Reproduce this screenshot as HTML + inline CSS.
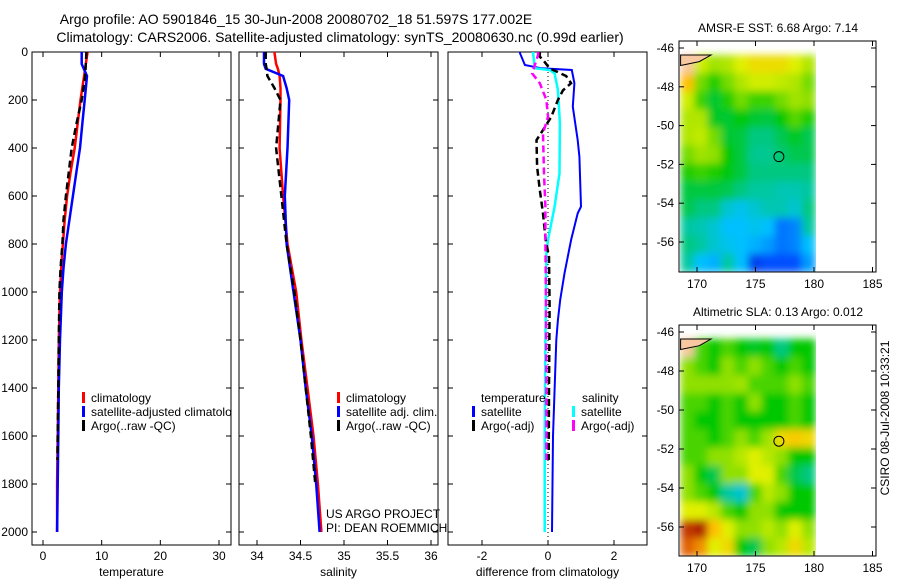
<!DOCTYPE html>
<html><head><meta charset="utf-8">
<style>
html,body{margin:0;padding:0;background:#fff;}
svg{display:block;font-family:"Liberation Sans",sans-serif;}
text{font-size:12px;fill:#000;}
</style></head>
<body>
<svg id="fig" width="900" height="580" viewBox="0 0 900 580" xmlns="http://www.w3.org/2000/svg">
<defs>
<filter id="blurSST" filterUnits="userSpaceOnUse" x="680" y="41" width="136" height="231"><feGaussianBlur stdDeviation="4" edgeMode="duplicate"/></filter>
<filter id="blurSLA" filterUnits="userSpaceOnUse" x="680" y="325" width="136" height="231"><feGaussianBlur stdDeviation="4" edgeMode="duplicate"/></filter>
</defs>
<text x="296" y="24" text-anchor="middle" style="font-size:14px">Argo profile: AO 5901846_15 30-Jun-2008 20080702_18 51.597S 177.002E</text>
<text x="340" y="42" text-anchor="middle" style="font-size:14px">Climatology: CARS2006. Satellite-adjusted climatology: synTS_20080630.nc (0.99d earlier)</text>
<g id="plots"></g>
<text transform="translate(889,418) rotate(-90)" text-anchor="middle">CSIRO 08-Jul-2008 10:33:21</text>
</svg>
<script>
// ---------- data ----------
const depthT = [0,50,100,200,300,400,500,600,700,800,900,1000,1200,1400,1600,1800,2000];
const climT  = [7.6,7.3,7.0,6.4,5.9,5.4,4.7,4.1,3.7,3.4,3.1,2.9,2.7,2.6,2.5,2.4,2.4];
const satT   = [6.6,6.6,7.5,7.1,6.7,6.3,5.7,5.1,4.5,3.9,3.5,3.2,2.9,2.7,2.6,2.5,2.4];
const depthArgo = [0,50,100,200,300,400,500,600,700,800,900,1000,1200,1400,1600,1700];
const argoT  = [7.4,7.3,7.2,6.6,5.7,4.9,4.4,3.9,3.5,3.3,3.0,2.8,2.7,2.6,2.5,2.45];
const depthS = [0,50,70,100,150,200,400,600,800,1000,1200,1400,1600,1800,2000];
const climS  = [34.2,34.22,34.24,34.26,34.27,34.27,34.26,34.3,34.35,34.45,34.51,34.58,34.65,34.7,34.74];
const satS   = [34.08,34.08,34.1,34.3,34.34,34.37,34.35,34.32,34.34,34.42,34.5,34.56,34.63,34.68,34.72];
const depthArgoS = [0,50,70,100,150,200,400,600,800,1000,1200,1400,1600,1800];
const argoS  = [34.1,34.1,34.11,34.12,34.2,34.27,34.22,34.28,34.34,34.43,34.5,34.56,34.62,34.67];
const depthDT = [0,5,54,68,75,130,228,367,436,644,672,783,922,1033,1117,1200,1600,2000];
const satDT   = [-0.85,-0.85,-0.7,-0.2,0.72,0.8,0.75,0.9,0.95,1.0,0.9,0.7,0.5,0.37,0.3,0.25,0.15,0.12];
const depthDS = [0,5,68,75,89,158,297,506,644,783,839,1200,1600,2000];
const satDS   = [-0.45,-0.45,-0.4,0.05,0.2,0.3,0.36,0.35,0.2,0.0,-0.05,-0.08,-0.1,-0.1];
const depthAT = [0,19,33,68,100,130,160,200,270,325,367,478,575,672,783,853,1061,1400,1700];
const argoDT  = [-0.25,-0.25,-0.15,0.05,0.55,0.7,0.45,0.3,0.1,-0.15,-0.35,-0.33,-0.25,-0.15,-0.07,0.03,0.05,0.03,0.02];
const depthAS = [0,12,33,89,130,200,270,339,506,644,783,1061,1400,1700];
const argoDS  = [-0.3,-0.3,-0.35,-0.48,-0.25,-0.05,0.0,-0.15,-0.12,-0.08,-0.08,-0.06,-0.05,-0.05];
const depthTicks = [0,200,400,600,800,1000,1200,1400,1600,1800,2000];
const tempTicks = [0,10,20,30];
const salTicks = [34,34.5,35,35.5,36];
const salTickLabels = ["34","34.5","35","35.5","36"];
const diffTicks = [-2,0,2];
const lonTicks = [170,175,180,185];
const latTicks = [-46,-48,-50,-52,-54,-56];
// map grids (colormap fraction 0..1, -1 = land), 10 lon cols x 12 lat rows
const sstGrid = [
[-1,0.68,0.62,0.64,0.7,0.74,0.74,0.74,0.7,0.64],
[0.8,0.58,0.52,0.58,0.64,0.68,0.68,0.66,0.64,0.58],
[0.68,0.54,0.47,0.52,0.58,0.54,0.54,0.58,0.62,0.6],
[0.64,0.64,0.48,0.47,0.5,0.47,0.46,0.5,0.56,0.52],
[0.64,0.66,0.58,0.47,0.46,0.42,0.42,0.45,0.48,0.45],
[0.58,0.62,0.6,0.5,0.46,0.41,0.41,0.43,0.45,0.45],
[0.52,0.54,0.52,0.49,0.46,0.42,0.42,0.42,0.42,0.42],
[0.46,0.46,0.46,0.45,0.42,0.4,0.4,0.38,0.38,0.4],
[0.45,0.42,0.42,0.35,0.32,0.35,0.38,0.38,0.35,0.42],
[0.4,0.38,0.35,0.3,0.3,0.32,0.3,0.2,0.22,0.4],
[0.42,0.4,0.35,0.32,0.3,0.28,0.25,0.2,0.22,0.3],
[0.4,0.3,0.28,0.4,0.3,0.12,0.15,0.15,0.15,0.25]];
const slaGrid = [
[-1,0.55,0.5,0.55,0.5,0.48,0.5,0.42,0.5,0.5],
[0.6,0.55,0.5,0.6,0.55,0.6,0.55,0.5,0.55,0.5],
[0.6,0.6,0.6,0.6,0.62,0.55,0.55,0.55,0.6,0.55],
[0.55,0.55,0.5,0.55,0.5,0.6,0.5,0.5,0.55,0.5],
[0.55,0.5,0.5,0.55,0.5,0.5,0.5,0.5,0.55,0.5],
[0.55,0.55,0.5,0.55,0.6,0.55,0.62,0.75,0.78,0.75],
[0.55,0.55,0.6,0.6,0.65,0.7,0.65,0.6,0.5,0.5],
[0.6,0.5,0.45,0.6,0.6,0.7,0.7,0.55,0.45,0.42],
[0.6,0.55,0.5,0.4,0.35,0.55,0.65,0.6,0.5,0.5],
[0.7,0.7,0.65,0.55,0.5,0.6,0.6,0.5,0.5,0.5],
[0.95,0.98,0.8,0.7,0.6,0.6,0.65,0.6,0.7,0.6],
[0.9,0.85,0.7,0.75,0.5,0.45,0.6,0.65,0.75,0.65]];
const argoLon = 177.0, argoLat = -51.6;

// ---------- helpers ----------
const NS="http://www.w3.org/2000/svg";
const root=document.getElementById('plots');
function mk(tag,attrs,parent){const e=document.createElementNS(NS,tag);for(const k in attrs)e.setAttribute(k,attrs[k]);(parent||root).appendChild(e);return e;}
const TOP=52,BOT=545;
const yD=d=>TOP+d*0.24;
function lin(d0,p0,d1,p1){return v=>p0+(v-d0)*(p1-p0)/(d1-d0);}

function panel(name,x0,x1,xs,ticks,labels,xlabel,showY){
  const g=mk('g',{});
  
  
  const r=mk('rect',{x:x0,y:TOP,width:x1-x0,height:BOT-TOP,fill:'none',stroke:'#000','stroke-width':1},g);
  
  
  ticks.forEach((t,i)=>{const x=xs(t);
    mk('line',{x1:x,x2:x,y1:BOT,y2:BOT-5,stroke:'#000'},g);
    mk('line',{x1:x,x2:x,y1:TOP,y2:TOP+5,stroke:'#000'},g);
    const tx=mk('text',{x:x,y:BOT+15,'text-anchor':'middle'},g);tx.textContent=labels[i];
    
    
  });
  depthTicks.forEach(d=>{const y=yD(d);
    mk('line',{x1:x0,x2:x0+5,y1:y,y2:y,stroke:'#000'},g);
    mk('line',{x1:x1,x2:x1-5,y1:y,y2:y,stroke:'#000'},g);
    if(showY){const tx=mk('text',{x:x0-4,y:y+4,'text-anchor':'end'},g);tx.textContent=d;
      
      }
  });
  const xl=mk('text',{x:(x0+x1)/2,y:576,'text-anchor':'middle'},g);xl.textContent=xlabel;
  
  
  return g;
}
function series(g,name,xs,vals,depths,color,dash,w){
  const pts=vals.map((v,i)=>xs(v).toFixed(1)+','+yD(depths[i]).toFixed(1)).join(' ');
  const p=mk('polyline',{points:pts,fill:'none',stroke:color,'stroke-width':w||2.5,'stroke-dasharray':dash||'none'},g);
  
  
}
function legendEntry(g,x,y,color,label,name){
  mk('rect',{x:x,y:y-10,width:3,height:11,fill:color},g);
  const t=mk('text',{x:x+9,y:y},g);t.textContent=label;
  
  
}
function txt(g,x,y,s,name){const t=mk('text',{x:x,y:y},g);t.textContent=s;
  
  return t;}

// ---------- temperature panel ----------
const xT=lin(0,43,30,219);
const g1=panel('temperature-panel',32,231,xT,tempTicks,tempTicks.map(String),'temperature',true);
series(g1,'climatology-temperature-line',xT,climT,depthT,'#f00');
series(g1,'satellite-temperature-line',xT,satT,depthT,'#00f');
series(g1,'argo-temperature-line',xT,argoT,depthArgo,'#000','7,4');
const cp1=mk('clipPath',{id:'c1'});mk('rect',{x:32,y:TOP,width:199,height:BOT-TOP},cp1);
const lg1=mk('g',{'clip-path':'url(#c1)'},g1);


legendEntry(lg1,82,402,'#f00','climatology','legend-entry-climatology');
legendEntry(lg1,82,416,'#00f','satellite-adjusted climatology','legend-entry-satellite');
legendEntry(lg1,82,430,'#000','Argo(..raw -QC)','legend-entry-argo');

// ---------- salinity panel ----------
const xS=lin(34,257,35,344);
const g2=panel('salinity-panel',239,438,xS,salTicks,salTickLabels,'salinity',false);
series(g2,'climatology-salinity-line',xS,climS,depthS,'#f00');
series(g2,'satellite-salinity-line',xS,satS,depthS,'#00f');
series(g2,'argo-salinity-line',xS,argoS,depthArgoS,'#000','7,4');
legendEntry(g2,337,402,'#f00','climatology','legend-entry-climatology');
legendEntry(g2,337,416,'#00f','satellite adj. clim.','legend-entry-satellite');
legendEntry(g2,337,430,'#000','Argo(..raw -QC)','legend-entry-argo');
txt(g2,326,518,'US ARGO PROJECT','project-label');
txt(g2,326,532,'PI: DEAN ROEMMICH','pi-label');

// ---------- difference panel ----------
const xD=lin(0,548,2,614);
const g3=panel('difference-panel',448,647,xD,diffTicks,diffTicks.map(String),'difference from climatology',false);
mk('line',{x1:xD(0),x2:xD(0),y1:TOP,y2:BOT,stroke:'#000','stroke-dasharray':'1,3'},g3);
series(g3,'satellite-temp-diff-line',xD,satDT,depthDT,'#00f',null,2);
series(g3,'satellite-sal-diff-line',xD,satDS,depthDS,'#0ff',null,2.5);
series(g3,'argo-temp-diff-line',xD,argoDT,depthAT,'#000','7,4');
series(g3,'argo-sal-diff-line',xD,argoDS,depthAS,'#f0f','7,4');
txt(g3,481,402,'temperature','legend-header-temperature');
txt(g3,582,402,'salinity','legend-header-salinity');
legendEntry(g3,472,416,'#00f','satellite','legend-entry-temp-satellite');
legendEntry(g3,472,430,'#000','Argo(-adj)','legend-entry-temp-argo');
legendEntry(g3,572,416,'#0ff','satellite','legend-entry-sal-satellite');
legendEntry(g3,572,430,'#f0f','Argo(-adj)','legend-entry-sal-argo');

// ---------- maps ----------
const cmapStops=[[0,[0,16,160]],[0.15,[0,80,255]],[0.3,[0,192,255]],[0.4,[0,200,160]],[0.5,[0,200,0]],[0.6,[144,224,0]],[0.7,[224,240,0]],[0.8,[255,192,0]],[0.9,[224,96,0]],[1,[160,16,0]]];
function cmap(v){if(v<0)return '#f8c8a0';
  for(let i=1;i<cmapStops.length;i++){if(v<=cmapStops[i][0]){const [a,ca]=cmapStops[i-1],[b,cb]=cmapStops[i];const t=(v-a)/(b-a);
    return 'rgb('+ca.map((c,k)=>Math.round(c+(cb[k]-c)*t)).join(',')+')';}}
  return 'rgb(160,16,0)';}
function mapPanel(name,title,grid,top,bot,lat46,lat56,filt){
  const g=mk('g',{});
  
  
  const xL=lin(170,697,180,814), yL=lin(-46,lat46,-56,lat56);
  const lon0=168.6,lon1=180.1;
  const latTop=-46-(lat46-top)/((lat56-lat46)/10), latBot=-46-(bot-lat46)/((lat56-lat46)/10);
  const nr=grid.length,nc=grid[0].length;
  const dLon=(lon1-lon0)/nc,dLat=(latTop-latBot)/nr;
  const cg=mk('g',{filter:'url(#'+filt+')'},g);
  
  
  grid.forEach((row,r)=>row.forEach((v,c)=>{
    const xa=xL(lon0+c*dLon),xb=xL(lon0+(c+1)*dLon),ya=yL(latTop-r*dLat),yb=yL(latTop-(r+1)*dLat);
    const cell=mk('rect',{x:xa.toFixed(1),y:ya.toFixed(1),width:(xb-xa+0.6).toFixed(1),height:(yb-ya+0.6).toFixed(1),fill:cmap(v)},cg);
    
    
  }));
  // land corner
  const land=mk('polygon',{points:[xL(168.6),yL(latTop),xL(171.2),yL(latTop),xL(170.2),yL(-46.7),xL(168.6),yL(-46.9)].map(v=>v.toFixed(1)).join(' '),fill:'#f8c8a0',stroke:'#000','stroke-width':1},g);
  
  
  const mk1=mk('circle',{cx:xL(argoLon),cy:yL(argoLat),r:5,fill:'none',stroke:'#000'},g);
  
  
  const box=mk('rect',{x:679,y:top,width:197,height:bot-top,fill:'none',stroke:'#000'},g);
  
  
  lonTicks.forEach(l=>{const x=xL(l);
    mk('line',{x1:x,x2:x,y1:bot,y2:bot-5,stroke:'#000'},g);
    mk('line',{x1:x,x2:x,y1:top,y2:top+5,stroke:'#000'},g);
    txt(g,x,bot+16,String(l),'lon-tick-label').setAttribute('text-anchor','middle');});
  latTicks.forEach(l=>{const y=yL(l);
    mk('line',{x1:679,x2:684,y1:y,y2:y,stroke:'#000'},g);
    mk('line',{x1:876,x2:871,y1:y,y2:y,stroke:'#000'},g);
    txt(g,674,y+4,String(l),'lat-tick-label').setAttribute('text-anchor','end');});
  const t=txt(g,778,top-9,title,'map-title');t.setAttribute('text-anchor','middle');
}
mapPanel('sst-map','AMSR-E SST: 6.68 Argo: 7.14',sstGrid,41,272,48,242,'blurSST');
mapPanel('sla-map','Altimetric SLA: 0.13 Argo: 0.012',slaGrid,325,556,332,527,'blurSLA');
</script>
</body></html>
